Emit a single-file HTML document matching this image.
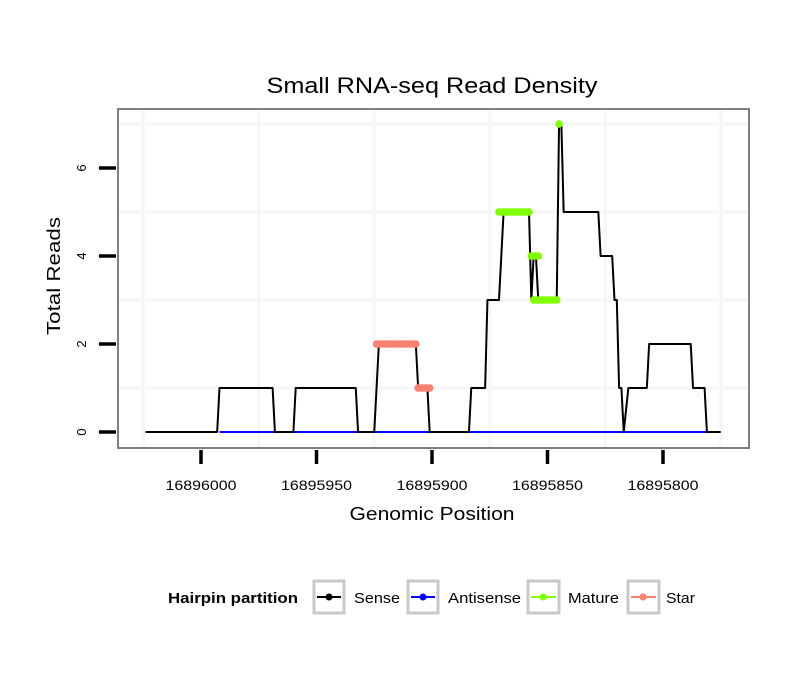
<!DOCTYPE html>
<html><head><meta charset="utf-8">
<style>
body{margin:0;background:#fff;}
svg{display:block;font-family:"Liberation Sans",sans-serif;}
</style></head>
<body>
<svg id="chart" width="810" height="690">
<text x="432" y="93" font-size="22" text-anchor="middle" textLength="331" lengthAdjust="spacingAndGlyphs">Small RNA-seq Read Density</text>
<g id="grid"></g>
<g id="series"></g>
<rect x="118" y="109" width="631" height="339" fill="none" stroke="#7f7f7f" stroke-width="2"/>
<g id="axes"></g>
<text x="432" y="520" font-size="18" text-anchor="middle" textLength="165" lengthAdjust="spacingAndGlyphs">Genomic Position</text>
<text transform="translate(60,276) rotate(-90)" font-size="18" text-anchor="middle" textLength="118" lengthAdjust="spacingAndGlyphs">Total Reads</text>
<g>
<text x="168" y="603" font-size="15" font-weight="bold" textLength="130" lengthAdjust="spacingAndGlyphs">Hairpin partition</text>
<g><rect x="314" y="581" width="30" height="32" fill="#fff" stroke="#c8c8c8" stroke-width="3"/><line x1="317" y1="597" x2="341" y2="597" stroke="#000" stroke-width="2"/><circle cx="329" cy="597" r="3.5" fill="#000"/><text x="354" y="603" font-size="15" textLength="46" lengthAdjust="spacingAndGlyphs">Sense</text></g>
<g><rect x="408" y="581" width="30" height="32" fill="#fff" stroke="#c8c8c8" stroke-width="3"/><line x1="411" y1="597" x2="435" y2="597" stroke="#0000ff" stroke-width="2"/><circle cx="423" cy="597" r="3.5" fill="#0000ff"/><text x="448" y="603" font-size="15" textLength="73" lengthAdjust="spacingAndGlyphs">Antisense</text></g>
<g><rect x="528" y="581" width="31" height="32" fill="#fff" stroke="#c8c8c8" stroke-width="3"/><line x1="531" y1="597" x2="556" y2="597" stroke="#7fff00" stroke-width="2"/><circle cx="543" cy="597" r="3.5" fill="#7fff00"/><text x="568" y="603" font-size="15" textLength="51" lengthAdjust="spacingAndGlyphs">Mature</text></g>
<g><rect x="628" y="581" width="31" height="32" fill="#fff" stroke="#c8c8c8" stroke-width="3"/><line x1="631" y1="597" x2="656" y2="597" stroke="#fa8072" stroke-width="2"/><circle cx="643" cy="597" r="3.5" fill="#fa8072"/><text x="666" y="603" font-size="15" textLength="29" lengthAdjust="spacingAndGlyphs">Star</text></g>
</g>
</svg>
<script>
const xTicks=[16896000,16895950,16895900,16895850,16895800];
const yTicks=[0,2,4,6];
const sensePos=[16896024,16895993,16895992,16895969,16895968,16895960,16895959,16895933,16895932,16895925,16895923,16895907,16895906,16895902,16895901,16895884,16895883,16895877,16895876,16895871,16895869,16895858,16895857,16895856,16895855,16895854,16895846,16895845,16895844,16895843,16895828,16895827,16895822,16895821,16895820,16895819,16895818,16895817,16895815,16895807,16895806,16895788,16895787,16895782,16895781,16895775];
const senseVal=[0,0,1,1,0,0,1,1,0,0,2,2,1,1,0,0,1,1,3,3,5,5,3,4,4,3,3,7,7,5,5,4,4,3,3,1,1,0,1,1,2,2,1,1,0,0];
const antiPos=[16895992,16895781];
const antiVal=[0,0];
const maturePos=[16895871,16895870,16895869,16895868,16895867,16895866,16895865,16895864,16895863,16895862,16895861,16895860,16895859,16895858,16895857,16895856,16895855,16895854,16895856,16895855,16895854,16895853,16895852,16895851,16895850,16895849,16895848,16895847,16895846,16895845];
const matureVal=[5,5,5,5,5,5,5,5,5,5,5,5,5,5,4,4,4,4,3,3,3,3,3,3,3,3,3,3,3,7];
const starPos=[16895924,16895923,16895922,16895921,16895920,16895919,16895918,16895917,16895916,16895915,16895914,16895913,16895912,16895911,16895910,16895909,16895908,16895907,16895906,16895905,16895904,16895903,16895902,16895901];
const starVal=[2,2,2,2,2,2,2,2,2,2,2,2,2,2,2,2,2,2,1,1,1,1,1,1];

const NS="http://www.w3.org/2000/svg";
const X=p=>201+(16896000-p)*2.31;
const Y=v=>432-v*44;
function mk(tag,attrs,parent){const e=document.createElementNS(NS,tag);for(const k in attrs)e.setAttribute(k,attrs[k]);parent.appendChild(e);return e;}
const grid=document.getElementById('grid'),ser=document.getElementById('series'),ax=document.getElementById('axes');
for(let i=-1;i<xTicks.length;i++){
  const p=xTicks[0]-25-50*i;
  const x=X(p); if(x<119||x>748)continue;
  const l=mk('line',{x1:x,x2:x,y1:110,y2:447,stroke:'#f6f6f6','stroke-width':3},grid);
  
  
}
for(let v=1;v<=7;v+=2){
  const l=mk('line',{x1:119,x2:748,y1:Y(v),y2:Y(v),stroke:'#f6f6f6','stroke-width':3},grid);
  
  
}
function line(ps,vs,color,name){
  const pts=ps.map((p,i)=>X(p)+','+Y(vs[i])).join(' ');
  const e=mk('polyline',{points:pts,fill:'none',stroke:color,'stroke-width':2,'stroke-linejoin':'round'},ser);
  
  
}
function dots(ps,vs,color,name){
  ps.forEach((p,i)=>{
    const c=mk('circle',{cx:X(p),cy:Y(vs[i]),r:3.8,fill:color},ser);
    
    
  });
}
line(antiPos,antiVal,'#0000ff','antisense-line');
line(sensePos,senseVal,'#000','sense-line');
dots(starPos,starVal,'#fa8072','star-point');
dots(maturePos,matureVal,'#7fff00','mature-point');
xTicks.forEach(t=>{
  const x=X(t);
  const l=mk('line',{x1:x,x2:x,y1:450,y2:464,stroke:'#000','stroke-width':3.5},ax);
  
  
  const tx=mk('text',{x:x,y:490,'font-size':14,'text-anchor':'middle',textLength:71,lengthAdjust:'spacingAndGlyphs'},ax);
  tx.textContent=t;
  
  
});
yTicks.forEach(t=>{
  const y=Y(t);
  const l=mk('line',{x1:99,x2:116,y1:y,y2:y,stroke:'#000','stroke-width':3.5},ax);
  
  
  const tx=mk('text',{transform:`translate(86,${y}) rotate(-90)`,'font-size':13,'text-anchor':'middle'},ax);
  tx.textContent=t;
  
  
});
</script>
</body></html>
